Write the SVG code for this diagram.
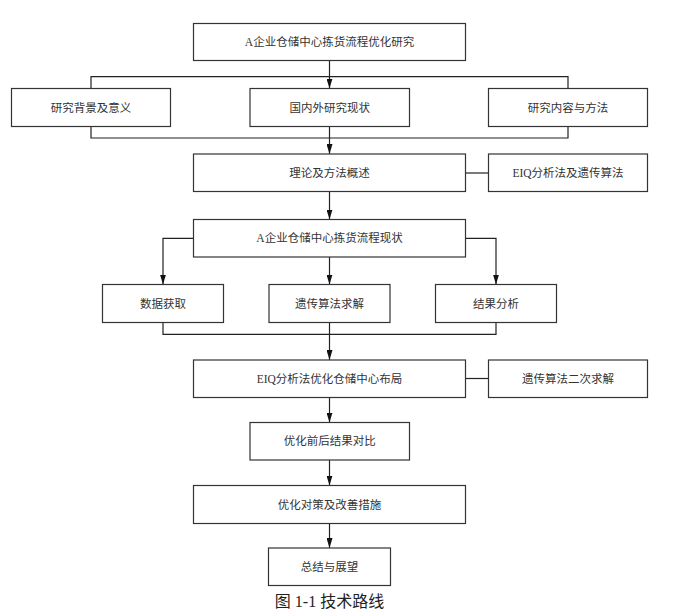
<svg xmlns="http://www.w3.org/2000/svg" width="687" height="616" viewBox="0 0 687 616">
<style>
.box{fill:#fff;stroke:#333;stroke-width:1.2}
.lbl{font-family:"Liberation Serif","Noto Sans CJK SC",serif;font-size:11.5px;fill:#333;text-anchor:middle;dominant-baseline:central}
.cap{font-family:"Liberation Serif","Noto Sans CJK SC",serif;font-size:16px;fill:#222;text-anchor:middle}
.ln{fill:none;stroke:#222;stroke-width:1.2}
.arr{marker-end:url(#ah)}
</style>
<defs>
<marker id="ah" viewBox="0 0 10 6" refX="10" refY="3" markerWidth="10" markerHeight="6" markerUnits="userSpaceOnUse" orient="auto">
<path d="M0,0 L10,3 L0,6 Z" fill="#111"/>
</marker>
</defs>
<rect width="687" height="616" fill="#fff"/>
<g id="connectors">
<path class="ln arr" d="M329.5,60.5 V88.5"/>
<path class="ln" d="M91,88.5 V76.7 H568 V88.5"/>
<path class="ln" d="M91,126.5 V138 H568 V126.5"/>
<path class="ln arr" d="M329.5,126.5 V154"/>
<path class="ln" d="M465.5,173 H488.5"/>
<path class="ln arr" d="M329.5,191.5 V219.5"/>
<path class="ln arr" d="M193.5,238.3 H163 V284.5"/>
<path class="ln arr" d="M329.5,257 V284.5"/>
<path class="ln arr" d="M465.5,238.3 H496 V284.5"/>
<path class="ln" d="M163,322.5 V334.3 H496 V322.5"/>
<path class="ln arr" d="M329.5,322.5 V360"/>
<path class="ln" d="M465.5,378.5 H488.5"/>
<path class="ln arr" d="M329.5,397.5 V422.5"/>
<path class="ln arr" d="M329.5,460 V485.5"/>
<path class="ln arr" d="M329.5,523.5 V548"/>
</g>
<g id="n1"><rect class="box" x="193.5" y="23.5" width="272" height="37"/><text class="lbl" x="329.5" y="42">A企业仓储中心拣货流程优化研究</text></g>
<g id="n2"><rect class="box" x="11.5" y="88.5" width="159" height="38"/><text class="lbl" x="91" y="107.5">研究背景及意义</text></g>
<g id="n3"><rect class="box" x="250" y="88.5" width="159.5" height="38"/><text class="lbl" x="329.7" y="107.5">国内外研究现状</text></g>
<g id="n4"><rect class="box" x="488.5" y="88.5" width="159" height="38"/><text class="lbl" x="568" y="107.5">研究内容与方法</text></g>
<g id="n5"><rect class="box" x="193.5" y="154" width="272" height="37.5"/><text class="lbl" x="329.5" y="172.8">理论及方法概述</text></g>
<g id="n6"><rect class="box" x="488.5" y="154" width="159" height="37.5"/><text class="lbl" x="568" y="172.8">EIQ分析法及遗传算法</text></g>
<g id="n7"><rect class="box" x="193.5" y="219.5" width="272" height="37.5"/><text class="lbl" x="329.5" y="238.3">A企业仓储中心拣货流程现状</text></g>
<g id="n8"><rect class="box" x="102.5" y="284.5" width="121" height="38"/><text class="lbl" x="163" y="303.5">数据获取</text></g>
<g id="n9"><rect class="box" x="269" y="284.5" width="121" height="38"/><text class="lbl" x="329.5" y="303.5">遗传算法求解</text></g>
<g id="n10"><rect class="box" x="435.5" y="284.5" width="121" height="38"/><text class="lbl" x="496" y="303.5">结果分析</text></g>
<g id="n11"><rect class="box" x="193.5" y="360" width="272" height="37.5"/><text class="lbl" x="329.5" y="378.7">EIQ分析法优化仓储中心布局</text></g>
<g id="n12"><rect class="box" x="488.5" y="360" width="159" height="37.5"/><text class="lbl" x="568" y="378.7">遗传算法二次求解</text></g>
<g id="n13"><rect class="box" x="250" y="422.5" width="159.5" height="37.5"/><text class="lbl" x="329.7" y="441.2">优化前后结果对比</text></g>
<g id="n14"><rect class="box" x="193.5" y="485.5" width="272" height="38"/><text class="lbl" x="329.5" y="504.5">优化对策及改善措施</text></g>
<g id="n15"><rect class="box" x="268.5" y="548" width="122" height="37.5"/><text class="lbl" x="329.5" y="566.7">总结与展望</text></g>
<text class="cap" x="329.5" y="607">图 1-1 技术路线</text>
</svg>
